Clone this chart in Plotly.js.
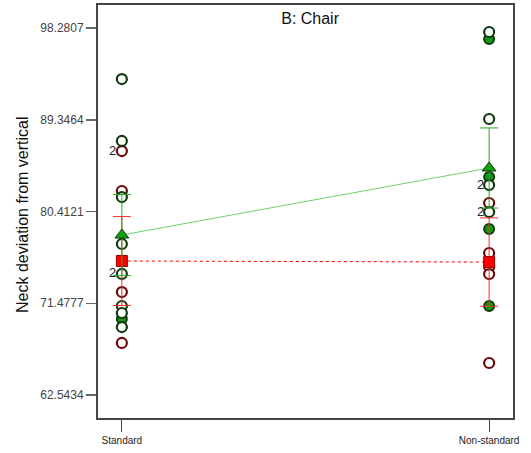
<!DOCTYPE html>
<html>
<head>
<meta charset="utf-8">
<script src="https://cdn.plot.ly/plotly-3.0.1.min.js"></script>
<style>html,body{margin:0;padding:0;background:#fff;}#chart{width:531px;height:453px;}</style>
</head>
<body>
<div id="chart"></div>
<script>
// Categories
const categories = ["Standard", "Non-standard"];
const yTickVals = [62.5434, 71.4777, 80.4121, 89.3464, 98.2807];
const yTickText = ["62.5434", "71.4777", "80.4121", "89.3464", "98.2807"];

// Raw points: open circles, dark green outline
const openGreenStd = [93.31, 87.28, 81.82, 77.25, 74.33, 71.21, 70.53, 69.16];
const openGreenNon = [97.89, 89.42, 82.99, 80.36];
// Raw points: open circles, dark red outline
const openRedStd = [86.30, 82.41, 72.57, 67.61];
const openRedNon = [81.24, 76.37, 75.01, 74.32, 65.66];
// Raw points: filled green circles
const filledGreenStd = [69.94];
const filledGreenNon = [97.21, 83.77, 78.71, 71.21];

// Overlap counts ("2") at category / value
const countCats = ["Standard", "Standard", "Non-standard", "Non-standard"];
const countVals = [86.30, 74.33, 82.99, 80.36];
const countText = ["2", "2", "2", "2"];

// Means and error half-widths
const greenMeans = [78.12, 84.65];
const greenErr = [3.95, 3.9];
const redMeans = [75.59, 75.49];
const redErr = [4.33, 4.3];

function rep(cat, n) { return Array(n).fill(cat); }

const darkGreen = "#0f3a0f";
const darkRed = "#6a0808";
const FONT = "Liberation Sans, Arial, sans-serif";

const traces = [
  {
    x: rep(categories[0], filledGreenStd.length).concat(rep(categories[1], filledGreenNon.length)),
    y: filledGreenStd.concat(filledGreenNon),
    mode: "markers", type: "scatter", hoverinfo: "skip",
    marker: {symbol: "circle", size: 10, color: "#129812", line: {color: darkGreen, width: 2}}
  },
  {
    x: rep(categories[0], openRedStd.length).concat(rep(categories[1], openRedNon.length)),
    y: openRedStd.concat(openRedNon),
    mode: "markers", type: "scatter", hoverinfo: "skip",
    marker: {symbol: "circle", size: 10, color: "#ffffff", line: {color: darkRed, width: 2.2}}
  },
  {
    x: rep(categories[0], openGreenStd.length).concat(rep(categories[1], openGreenNon.length)),
    y: openGreenStd.concat(openGreenNon),
    mode: "markers", type: "scatter", hoverinfo: "skip",
    marker: {symbol: "circle", size: 10, color: "#ffffff", line: {color: darkGreen, width: 2.2}}
  },
  {
    x: categories, y: redMeans,
    mode: "lines+markers", type: "scatter", hoverinfo: "skip",
    line: {color: "#ff0000", width: 1, dash: "dot"},
    marker: {symbol: "square", size: 11, color: "#ff0000", line: {color: "#9a0000", width: 1}},
    error_y: {type: "data", array: redErr, visible: true, color: "#ff2a2a", thickness: 1, width: 9}
  },
  {
    x: categories, y: greenMeans,
    mode: "lines+markers", type: "scatter", hoverinfo: "skip",
    line: {color: "#70d070", width: 1},
    marker: {symbol: "triangle-up", size: 12, color: "#10a010", line: {color: darkGreen, width: 1}},
    error_y: {type: "data", array: greenErr, visible: true, color: "#22aa22", thickness: 1, width: 9}
  }
];

const annotations = countCats.map((c, i) => ({
  x: c, y: countVals[i], xref: "x", yref: "y", text: countText[i],
  showarrow: false, xanchor: "center", yanchor: "middle", xshift: -9, yshift: 1,
  font: {family: FONT, size: 13, color: "#222"}
}));

// y-axis title as annotation (positioned like the reference)
annotations.push({
  text: "Neck deviation from vertical", textangle: -90,
  xref: "paper", yref: "paper", x: -(98 - 22) / 415, y: 1 - (215 - 5) / 413,
  xanchor: "center", yanchor: "middle", showarrow: false,
  font: {family: FONT, size: 16, color: "#111"}
});

const layout = {
  width: 531, height: 453,
  margin: {l: 98, r: 18, t: 5, b: 35, pad: 0},
  paper_bgcolor: "#ffffff", plot_bgcolor: "#ffffff",
  showlegend: false,
  title: {
    text: "B: Chair", x: 0.584, xanchor: "center", y: 0.96, yanchor: "middle",
    font: {family: FONT, size: 16, color: "#111"}
  },
  font: {family: FONT},
  xaxis: {
    type: "category", range: [-0.065, 1.065],
    tickvals: categories, ticktext: categories,
    showgrid: false, zeroline: false,
    showline: true, mirror: true, linecolor: "#444", linewidth: 2,
    ticks: "outside", ticklen: 12, tickwidth: 1, tickcolor: "#444",
    tickfont: {size: 10, color: "#222"}
  },
  yaxis: {
    range: [60.304, 100.52],
    tickvals: yTickVals, ticktext: yTickText,
    showgrid: false, zeroline: false,
    showline: true, mirror: true, linecolor: "#444", linewidth: 2,
    ticks: "outside", ticklen: 10, tickwidth: 1.5, tickcolor: "#666",
    tickfont: {size: 12, color: "#444"}
  },
  annotations: annotations
};

Plotly.newPlot("chart", traces, layout, {staticPlot: true, displayModeBar: false});
</script>
</body>
</html>
